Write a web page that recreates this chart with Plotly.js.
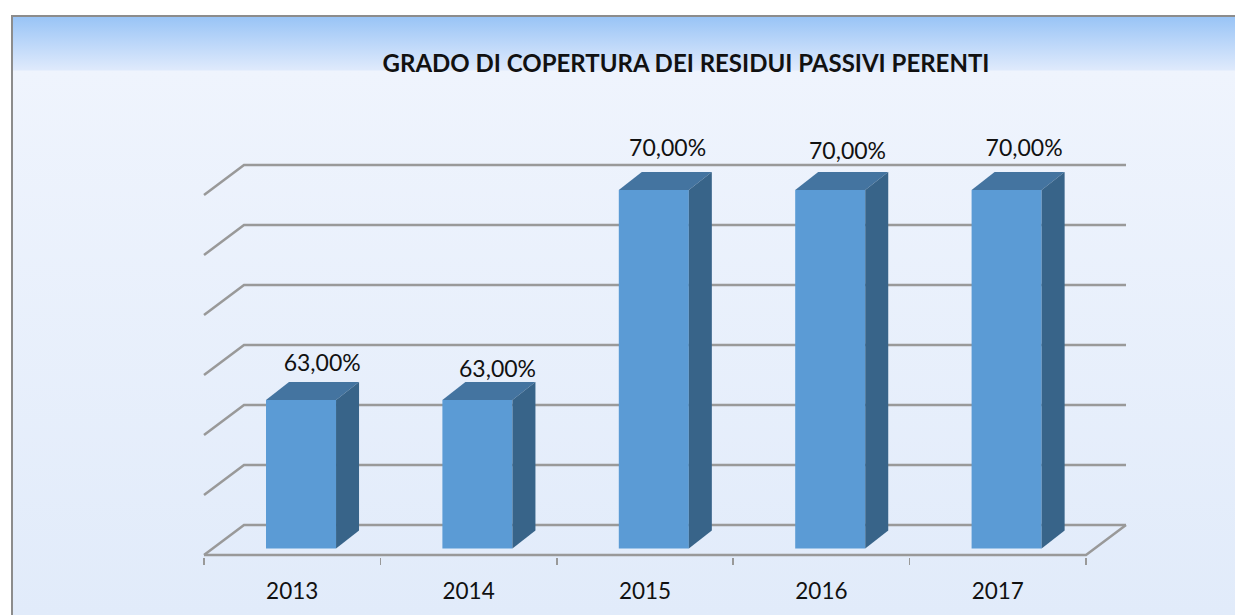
<!DOCTYPE html>
<html>
<head>
<meta charset="utf-8">
<script src="https://cdn.plot.ly/plotly-3.0.1.min.js"></script>
<style>
html,body{margin:0;padding:0;background:#fff;width:1235px;height:615px;overflow:hidden}
#frame{position:absolute;left:11px;top:15px;width:1224px;height:600px;border-left:2px solid #8c8c8c;border-top:2px solid #8c8c8c;box-sizing:border-box;
background:linear-gradient(to bottom,#99c4f6 0px,#dfeafc 53px,#eff4fd 54px,#e1ebfa 100%)}
#chart{position:absolute;left:0;top:0;width:1235px;height:615px}
</style>
</head>
<body>
<div id="frame"></div>
<div id="chart"></div>
<script>
// Data
var categories = ['2013','2014','2015','2016','2017'];
var values = [63, 63, 70, 70, 70];
var gridValues = [58,60,62,64,66,68,70];

// Pseudo-3D projection settings (in axis units)
var yMin = 58, yMax = 72;
var padX = 2/176.4, padY = 2/30;            // room around the floor so its lines are not cut
var depthX = 40/176.4, depthY = 1;          // wall depth
var barDx = 0.05, barWidth = 0.397;         // bar placement in category
var barTopShift = 0.167, barBaseShift = 0.217;
var barDepthX = 23/176.4, barDepthY = 18/30;
var labelDx = [0.17,0.164,0.128,0.148,0.149];
var labelDy = [1.33,1.13,1.5,1.4,1.5];
var frontLeft = -0.5, frontRight = categories.length - 0.5;

var gridColor = '#999999';
var gx=[], gy=[];
gridValues.forEach(function(v){
  gx.push(frontLeft, frontLeft+depthX, frontRight+depthX, null);
  gy.push(v, v+depthY, v+depthY, null);
});
var floorX=[frontLeft, frontRight, frontRight+depthX];
var floorY=[yMin, yMin, yMin+depthY];

var traces=[
 {type:'scatter',mode:'lines',x:gx,y:gy,xaxis:'x',yaxis:'y',line:{color:gridColor,width:2.5},hoverinfo:'skip',showlegend:false},
 {type:'scatter',mode:'lines',x:floorX,y:floorY,xaxis:'x',yaxis:'y',line:{color:gridColor,width:2.5},hoverinfo:'skip',showlegend:false},
 {type:'bar',x:categories.map(function(c,i){return i+barDx;}),
  y:values.map(function(v){return v+barTopShift-(yMin+barBaseShift);}),
  base:values.map(function(){return yMin+barBaseShift;}),
  width:barWidth,xaxis:'x2',yaxis:'y',marker:{color:'#5b9bd5',line:{width:0}},hoverinfo:'skip',showlegend:false}
];
values.forEach(function(v,i){
  var l=i+barDx-barWidth/2, r=i+barDx+barWidth/2, t=v+barTopShift, b=yMin+barBaseShift;
  traces.push({type:'scatter',mode:'lines',xaxis:'x2',yaxis:'y',fill:'toself',fillcolor:'#4474a0',line:{width:0,color:'#4474a0'},
    x:[l,l+barDepthX,r+barDepthX,r,l],y:[t,t+barDepthY,t+barDepthY,t,t],hoverinfo:'skip',showlegend:false});
  traces.push({type:'scatter',mode:'lines',xaxis:'x2',yaxis:'y',fill:'toself',fillcolor:'#386489',line:{width:0,color:'#386489'},
    x:[r,r+barDepthX,r+barDepthX,r,r],y:[t,t+barDepthY,b+barDepthY,b,t],hoverinfo:'skip',showlegend:false});
});
traces.push({type:'scatter',mode:'text',xaxis:'x2',yaxis:'y',
  x:values.map(function(v,i){return i+labelDx[i];}),
  y:values.map(function(v,i){return v+labelDy[i];}),
  text:values.map(function(v){return v.toFixed(2).replace('.',',')+'%';}),
  textposition:'middle center',textfont:{family:'Lato, Carlito, sans-serif',size:23,color:'#111111'},
  cliponaxis:false,hoverinfo:'skip',showlegend:false});

var xRange=[frontLeft-padX, frontRight+depthX+padX];
var layout={
  width:1235,height:615,
  paper_bgcolor:'rgba(0,0,0,0)',plot_bgcolor:'rgba(0,0,0,0)',
  margin:{l:202,r:107,t:135,b:58},
  title:{text:'GRADO DI COPERTURA DEI RESIDUI PASSIVI PERENTI',x:686/1235,xanchor:'center',y:1-64/615,yanchor:'middle',
    font:{family:'Lato, Carlito, sans-serif',size:24,color:'#111111',weight:700}},
  xaxis:{range:xRange,tickmode:'array',tickvals:[-0.5,0.5,1.5,2.5,3.5,4.5],ticktext:['','','','','',''],
    ticks:'outside',ticklen:7,tickwidth:1.5,tickcolor:gridColor,showgrid:false,zeroline:false,showline:false},
  xaxis2:{range:xRange,overlaying:'x',anchor:'y',side:'bottom',tickmode:'array',tickvals:categories.map(function(c,i){return i;}),ticktext:categories,
    ticks:'',ticklabelstandoff:18,showgrid:false,zeroline:false,showline:false,
    tickfont:{family:'Lato, Carlito, sans-serif',size:22.5,color:'#111111'}},
  yaxis:{range:[yMin-padY,yMax],showticklabels:false,ticks:'',showgrid:false,zeroline:false,showline:false},
  showlegend:false,
  barmode:'overlay'
};
Plotly.newPlot('chart',traces,layout,{displayModeBar:false,staticPlot:true});
</script>
</body>
</html>
